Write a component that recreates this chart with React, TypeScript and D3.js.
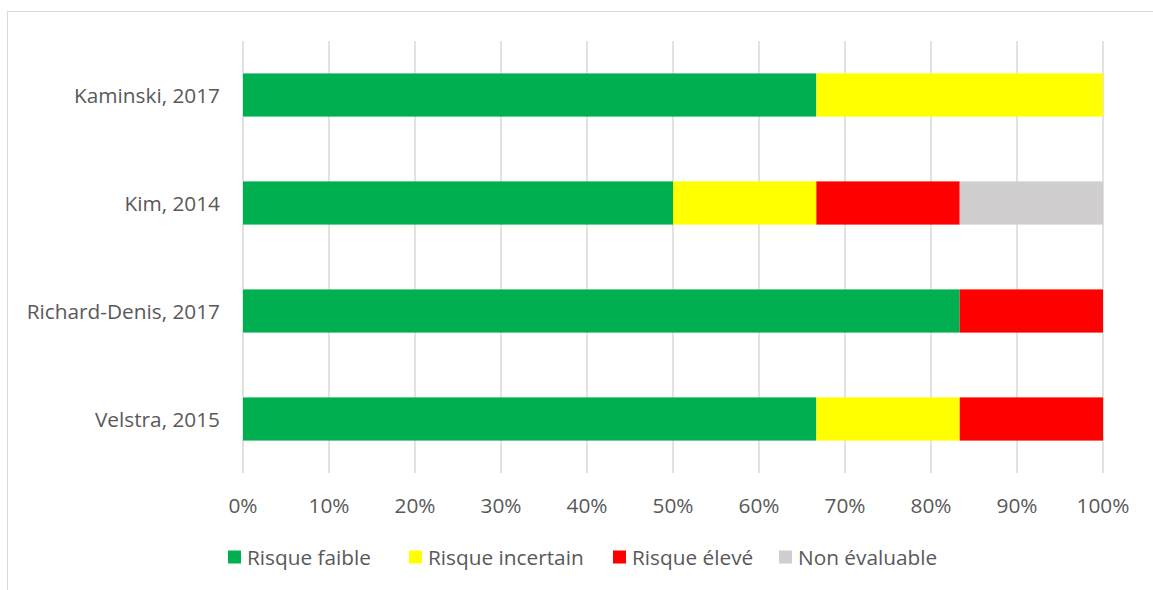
import React from "react";
import * as d3 from "d3";

const categories = ["Kaminski, 2017", "Kim, 2014", "Richard-Denis, 2017", "Velstra, 2015"];
const seriesNames = ["Risque faible", "Risque incertain", "Risque élevé", "Non évaluable"];
const seriesColors = ["#00B050", "#FFFF00", "#FF0000", "#D0CECE"];
const risqueFaible = [66.67, 50, 83.33, 66.67];
const risqueIncertain = [33.33, 16.67, 0, 16.67];
const risqueEleve = [0, 16.67, 16.67, 16.67];
const nonEvaluable = [0, 16.67, 0, 0];
const xTicks = [0, 10, 20, 30, 40, 50, 60, 70, 80, 90, 100];

const W = 1153;
const H = 590;
const FONT = "'Open Sans', sans-serif";
const FS = 20.8;
const TEXT = "#595959";

export default function App() {
  const x = d3.scaleLinear().domain([0, 100]).range([243, 1103]);
  const y = d3.scaleBand<string>().domain(categories).range([41, 473]).paddingInner(0.6).paddingOuter(0.3);
  const series = [risqueFaible, risqueIncertain, risqueEleve, nonEvaluable];
  const rows = categories.map((c, i) => {
    const o: any = { cat: c };
    seriesNames.forEach((s, j) => (o[s] = series[j][i]));
    return o;
  });
  const stacked = d3.stack<any>().keys(seriesNames)(rows);
  const legendX = [228, 409, 613, 779];

  return (
    <svg width={W} height={H} style={{ position: "absolute", left: 0, top: 0, background: "#fff" }}>
      <rect x={7.5} y={11.5} width={W + 10} height={H + 10} fill="#fff" stroke="#D9D9D9" strokeWidth={1} />
      {xTicks.map((t) => (
        <line key={t} x1={x(t)} x2={x(t)} y1={41} y2={473} stroke="#D9D9D9" strokeWidth={1.5} />
      ))}
      {stacked.map((s, j) =>
        s.map((d, i) =>
          d[1] - d[0] > 0 ? (
            <rect
              key={j + "-" + i}
              x={x(d[0])}
              y={y(categories[i])!}
              width={x(d[1]) - x(d[0])}
              height={y.bandwidth()}
              fill={seriesColors[j]}
            />
          ) : null
        )
      )}
      {categories.map((c) => (
        <text
          key={c}
          x={220}
          y={y(c)! + y.bandwidth() / 2}
          textAnchor="end"
          dominantBaseline="central"
          fontFamily={FONT}
          fontSize={FS}
          fill={TEXT}
        >
          {c}
        </text>
      ))}
      {xTicks.map((t) => (
        <text key={t} x={x(t)} y={505} textAnchor="middle" dominantBaseline="central" fontFamily={FONT} fontSize={FS} fill={TEXT}>
          {t + "%"}
        </text>
      ))}
      {seriesNames.map((s, j) => (
        <g key={s} transform={`translate(${legendX[j]},557)`}>
          <rect x={0} y={-6.5} width={13} height={13} fill={seriesColors[j]} />
          <text x={19} y={0} dominantBaseline="central" fontFamily={FONT} fontSize={FS} fill={TEXT}>
            {s}
          </text>
        </g>
      ))}
    </svg>
  );
}
